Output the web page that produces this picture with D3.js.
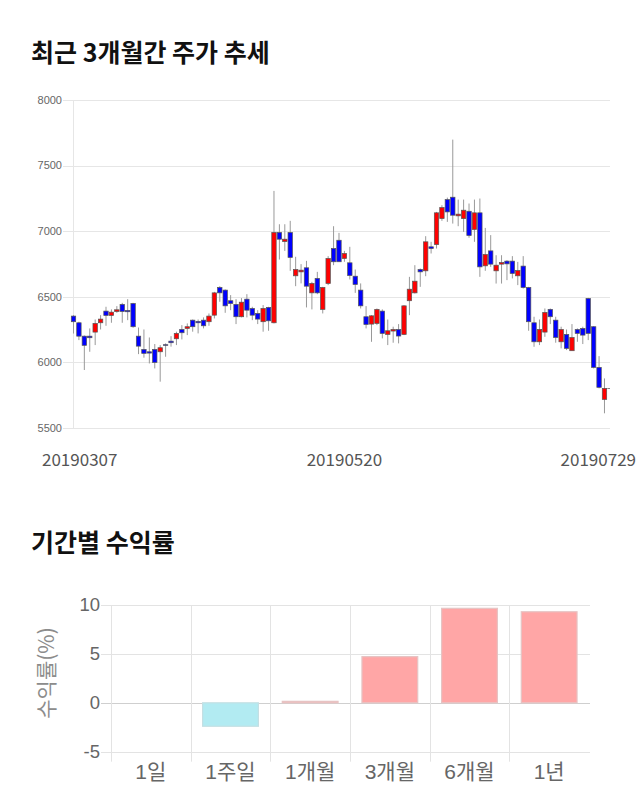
<!DOCTYPE html>
<html><head><meta charset="utf-8">
<script src="https://cdn.jsdelivr.net/npm/d3@7"></script>
<style>body{margin:0;background:#fff} svg{display:block}</style>
</head><body>
<svg id="chart" width="640" height="810"></svg>
<script>
// ---- data ----
const openP  = [6353,6302,6200,6200,6231,6302,6391,6358,6388,6442,6396,6449,6200,6099,6081,6099,6081,6135,6162,6180,
                6251,6259,6322,6312,6322,6310,6360,6571,6551,6470,6442,6348,6482,6411,6373,6310,6419,6302,6990,6921,
                6990,6660,6690,6721,6530,6640,6404,6602,6868,6931,6792,6759,6657,6551,6348,6292,6297,6391,6213,6239,
                6251,6213,6470,6530,6708,6698,6881,6898,7096,7241,7259,7117,7096,7152,7013,7140,6736,6850,6698,6749,
                6772,6772,6660,6734,6571,6302,6157,6231,6404,6322,6157,6213,6089,6251,6259,6487,6272,5962,5718,5802];
const highP  = [6360,6310,6205,6259,6327,6360,6424,6404,6429,6454,6482,6454,6266,6251,6190,6140,6132,6145,6200,6234,
                6284,6297,6327,6327,6343,6373,6538,6581,6556,6513,6482,6490,6520,6424,6398,6437,6424,7307,7053,7053,
                7079,6805,6749,6774,6614,6690,6576,6810,7038,6987,6850,6881,6708,6602,6429,6360,6411,6404,6327,6272,
                6292,6437,6652,6741,6716,6962,6919,7147,7198,7256,7698,7241,7241,7211,7241,7249,7025,6970,6817,6817,
                6779,6810,6766,6810,6576,6348,6327,6411,6411,6348,6272,6251,6292,6259,6272,6492,6277,6048,5878,5802];
const lowP   = [6220,6170,5942,6081,6132,6251,6279,6302,6378,6302,6322,6264,6063,6036,5992,5954,5853,6043,6120,6132,
                6175,6208,6234,6221,6259,6279,6335,6462,6378,6398,6292,6343,6343,6322,6292,6234,6241,6297,6784,6850,
                6698,6581,6602,6419,6404,6520,6373,6589,6741,6767,6767,6632,6530,6411,6259,6157,6284,6183,6132,6150,
                6145,6208,6360,6525,6576,6657,6830,6868,7079,7071,7058,7038,6995,6950,6919,6652,6698,6728,6601,6601,
                6627,6640,6589,6563,6241,6119,6132,6195,6292,6150,6107,6094,6089,6157,6140,6170,5954,5802,5612,5802];
const closeP = [6310,6200,6130,6188,6297,6330,6358,6383,6401,6388,6386,6272,6124,6069,6071,6000,6112,6130,6150,6221,
                6226,6272,6272,6302,6279,6353,6530,6530,6431,6449,6348,6459,6398,6360,6330,6411,6317,6990,6939,6939,
                6800,6708,6703,6581,6602,6530,6571,6792,6767,6767,6830,6662,6594,6431,6289,6355,6404,6221,6241,6251,
                6201,6431,6558,6619,6690,6919,6868,7140,7180,7147,7122,7130,7160,6967,7140,6728,6822,6749,6741,6761,
                6751,6678,6700,6571,6310,6157,6251,6381,6348,6190,6251,6107,6190,6221,6208,6221,5962,5810,5802,5802];
const dateTickIndex = [0, 50, 99];
const dateTickLabels = ["20190307", "20190520", "20190729"];
const priceTicks = [5500, 6000, 6500, 7000, 7500, 8000];

const periods = ["1일", "1주일", "1개월", "3개월", "6개월", "1년"];
const returns = [0, -2.4, 0.15, 4.72, 9.66, 9.31];
const returnTicks = [-5, 0, 5, 10];

// ---- drawing ----
const svg = d3.select("#chart");
const KR = "'Noto Sans CJK KR', 'Noto Sans', sans-serif";
const LAT = "'Liberation Sans', 'Noto Sans CJK KR', sans-serif";

svg.append("text").attr("x", 31).attr("y", 62)
  .attr("font-family", KR).attr("font-weight", "bold").attr("font-size", 25)
  .attr("fill", "#111").text("최근 3개월간 주가 추세");

// top chart
const x = d3.scaleLinear().domain([0, openP.length - 1]).range([73.5, 609.9]);
const y = d3.scaleLinear().domain([5500, 8000]).range([428, 100]);
const topG = svg.append("g");

topG.selectAll("line.grid").data(priceTicks).join("line")
  .attr("x1", 63).attr("x2", 610)
  .attr("y1", d => Math.round(y(d)) + 0.5).attr("y2", d => Math.round(y(d)) + 0.5)
  .attr("stroke", "#e6e6e6").attr("stroke-width", 1);
topG.append("line").attr("x1", 73.5).attr("x2", 73.5).attr("y1", y(8000)).attr("y2", y(5500))
  .attr("stroke", "#e6e6e6");
topG.selectAll("text.pt").data(priceTicks).join("text")
  .attr("x", 62).attr("y", d => y(d)).attr("dy", "0.35em")
  .attr("text-anchor", "end").attr("font-family", LAT).attr("font-size", 11)
  .attr("fill", "#666").text(d => d);

svg.append("clipPath").attr("id", "clipTop").append("rect")
  .attr("x", 60).attr("y", 90).attr("width", 550).attr("height", 350);
const candles = topG.append("g").attr("clip-path", "url(#clipTop)");
const idx = d3.range(openP.length);
candles.selectAll("line.wick").data(idx).join("line")
  .attr("x1", i => x(i)).attr("x2", i => x(i))
  .attr("y1", i => y(highP[i])).attr("y2", i => y(lowP[i]))
  .attr("stroke", "#999").attr("stroke-width", 1);
const bw = 4.4;
candles.selectAll("rect.body").data(idx).join("rect")
  .attr("x", i => x(i) - bw / 2).attr("width", bw)
  .attr("y", i => y(Math.max(openP[i], closeP[i])))
  .attr("height", i => Math.max(Math.abs(y(openP[i]) - y(closeP[i])), 0.01))
  .attr("fill", i => closeP[i] > openP[i] ? "#ff0000" : (closeP[i] < openP[i] ? "#0000ff" : "none"))
  .attr("stroke", "#555").attr("stroke-width", 0.7);

const dl = topG.selectAll("text.dt").data(dateTickIndex).join("text")
  .attr("x", i => x(i)).attr("y", 466).attr("text-anchor", "middle")
  .attr("font-family", KR).attr("font-size", 17).attr("fill", "#555")
  .text((d, k) => dateTickLabels[k]);
dl.each(function(i) {
  const w = this.getComputedTextLength();
  let cx = x(i);
  if (cx - w / 2 < 42) cx = 42 + w / 2;
  if (cx + w / 2 > 636) cx = 636 - w / 2;
  d3.select(this).attr("x", cx);
});

// bottom chart
svg.append("text").attr("x", 31).attr("y", 552)
  .attr("font-family", KR).attr("font-weight", "bold").attr("font-size", 25)
  .attr("fill", "#111").text("기간별 수익률");

const xb = d3.scaleBand().domain(periods).range([111, 589]).paddingInner(0.3).paddingOuter(0.15);
const yb = d3.scaleLinear().domain([-5, 10]).range([751.7, 605]);
const bot = svg.append("g");
const gap = (xb.step() - xb.bandwidth()) / 2;

bot.selectAll("line.hg").data(returnTicks).join("line")
  .attr("x1", 101).attr("x2", 590)
  .attr("y1", d => Math.round(yb(d)) + 0.5).attr("y2", d => Math.round(yb(d)) + 0.5)
  .attr("stroke", d => d === 0 ? "#cfcfcf" : "#e3e3e3").attr("stroke-width", 1);
bot.selectAll("line.vg").data(periods).join("line")
  .attr("x1", d => Math.round(xb(d) - gap) + 0.5).attr("x2", d => Math.round(xb(d) - gap) + 0.5)
  .attr("y1", yb(10)).attr("y2", yb(-5) + 10)
  .attr("stroke", "#e3e3e3");
bot.selectAll("text.yt").data(returnTicks).join("text")
  .attr("x", 100).attr("y", d => yb(d)).attr("dy", "0.35em").attr("text-anchor", "end")
  .attr("font-family", LAT).attr("font-size", 18.5).attr("fill", "#666").text(d => d);
bot.selectAll("text.xt").data(periods).join("text")
  .attr("x", d => xb(d) + xb.bandwidth() / 2).attr("y", 772).attr("dy", "0.35em")
  .attr("text-anchor", "middle").attr("font-family", LAT).attr("font-size", 21)
  .attr("fill", "#666").text(d => d);
bot.append("text").attr("transform", "translate(47,673) rotate(-90)")
  .attr("text-anchor", "middle").attr("dy", "0.35em")
  .attr("font-family", KR).attr("font-size", 21).attr("fill", "#8c8c8c").text("수익률(%)");

bot.selectAll("rect.bar").data(periods.map((p, k) => ({p, v: returns[k]})).filter(d => d.v !== 0)).join("rect")
  .attr("x", d => xb(d.p)).attr("width", xb.bandwidth())
  .attr("y", d => yb(Math.max(0, d.v)))
  .attr("height", d => Math.abs(yb(d.v) - yb(0)))
  .attr("fill", d => d.v > 0 ? "#ffa6a6" : "#b2ebf2")
  .attr("stroke", d => d.v > 0 ? "#e6c4c4" : "#c4dfe3").attr("stroke-width", 1.2);
</script>
</body></html>
